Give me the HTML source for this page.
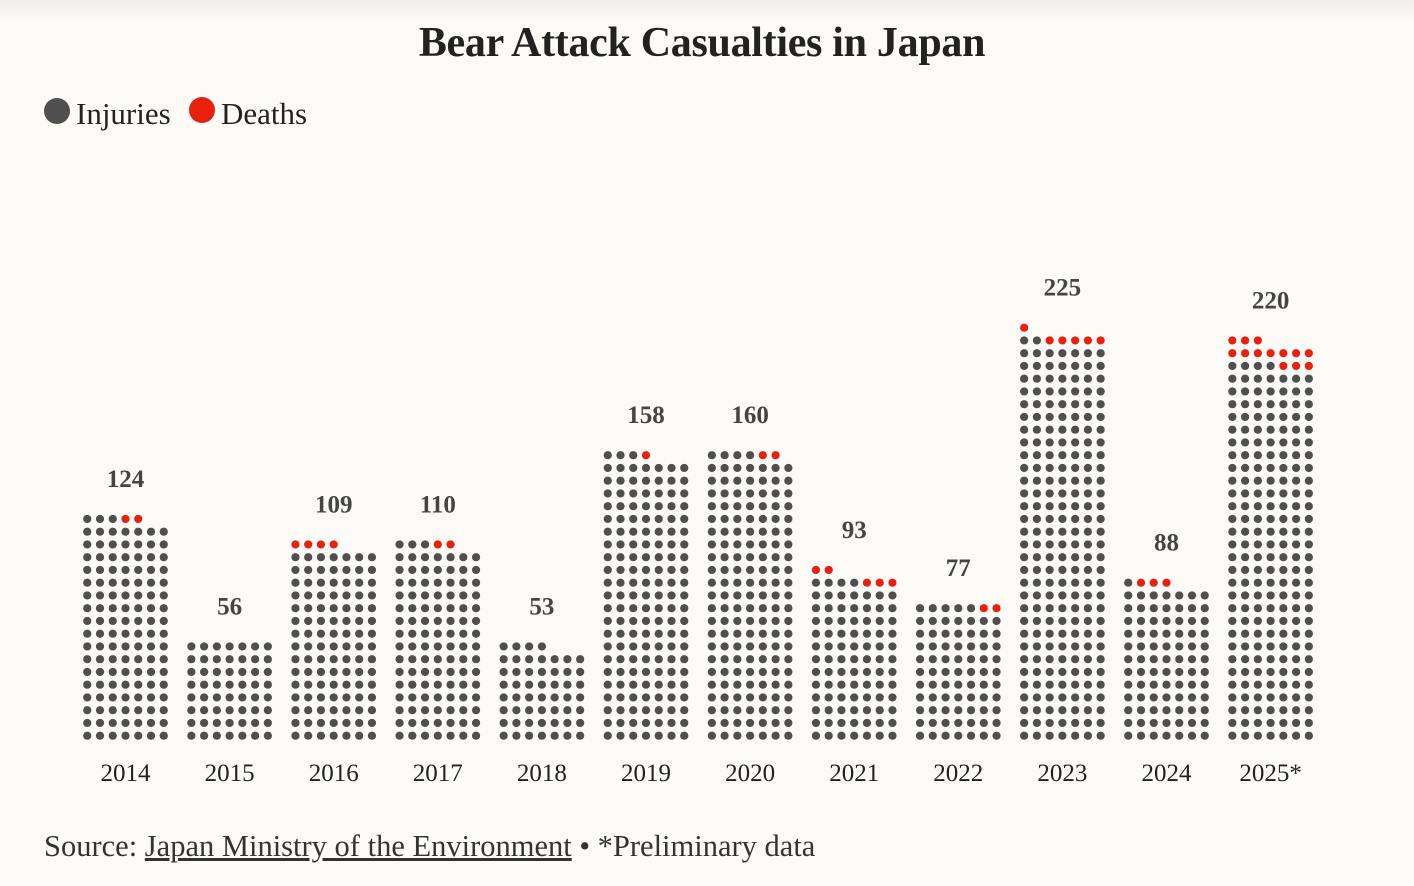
<!DOCTYPE html>
<html><head><meta charset="utf-8"><style>
body{margin:0;background:#fcfbf7;}
#wrap{position:relative;width:1414px;height:886px;overflow:hidden;background:linear-gradient(#efeeea 0px,#fcfbf7 22px);font-family:"Liberation Serif",serif;color:#222;}
#title{position:absolute;left:0;width:1404px;top:19px;text-align:center;font-size:42px;font-weight:bold;letter-spacing:-0.3px;}
.leg{position:absolute;font-size:31px;top:96px;}
#src{position:absolute;left:44px;top:829px;font-size:30.5px;color:#333;}
#src u{text-decoration:underline;}
</style></head><body>
<div id="wrap">
<div id="title">Bear Attack Casualties in Japan</div>
<svg width="1414" height="886" style="position:absolute;left:0;top:0">
<circle cx="57" cy="111" r="13" fill="#4f4f4f"/>
<circle cx="202" cy="110" r="13" fill="#e8200f"/>
<g id="marks"></g>
</svg>
<div class="leg" style="left:76px">Injuries</div>
<div class="leg" style="left:221px">Deaths</div>
<div id="src">Source: <u>Japan Ministry of the Environment</u> • *Preliminary data</div>
</div>
<script>
const years = ["2014","2015","2016","2017","2018","2019","2020","2021","2022","2023","2024","2025*"];
const totals = [124,56,109,110,53,158,160,93,77,225,88,220];
const deaths = [2,0,4,2,0,1,2,5,2,6,3,13];

const NS="http://www.w3.org/2000/svg";
const g=document.getElementById('marks');
const COLS=7, STEP=12.75, R=4.1, BASE=735.7;
function xCenter(i){return 125.5+i*104.1;}
function dotX(i,c){return xCenter(i)+(c-3)*STEP;}
function dotY(r){return BASE-r*STEP;}
years.forEach((yr,i)=>{
  const n=totals[i], d=deaths[i];
  for(let k=0;k<n;k++){
    const r=Math.floor(k/COLS), c=k%COLS;
    const el=document.createElementNS(NS,'circle');
    el.setAttribute('cx',dotX(i,c));
    el.setAttribute('cy',dotY(r));
    el.setAttribute('r',R);
    el.setAttribute('fill',k>=n-d?'#e8200f':'#4f4f4f');
    
    
    g.appendChild(el);
  }
  const topRow=Math.floor((n-1)/COLS);
  const v=document.createElementNS(NS,'text');
  v.setAttribute('x',xCenter(i));
  v.setAttribute('y',dotY(topRow)-32);
  v.setAttribute('text-anchor','middle');
  v.setAttribute('font-family','"Liberation Serif", serif');
  v.setAttribute('font-size','25');
  v.setAttribute('font-weight','bold');
  v.setAttribute('fill','#444');
  v.textContent=n;
  
  
  g.appendChild(v);
  const t=document.createElementNS(NS,'text');
  t.setAttribute('x',xCenter(i));
  t.setAttribute('y',781);
  t.setAttribute('text-anchor','middle');
  t.setAttribute('font-family','"Liberation Serif", serif');
  t.setAttribute('font-size','25');
  t.setAttribute('fill','#222');
  t.textContent=yr;
  
  
  g.appendChild(t);
});
</script>
</body></html>
